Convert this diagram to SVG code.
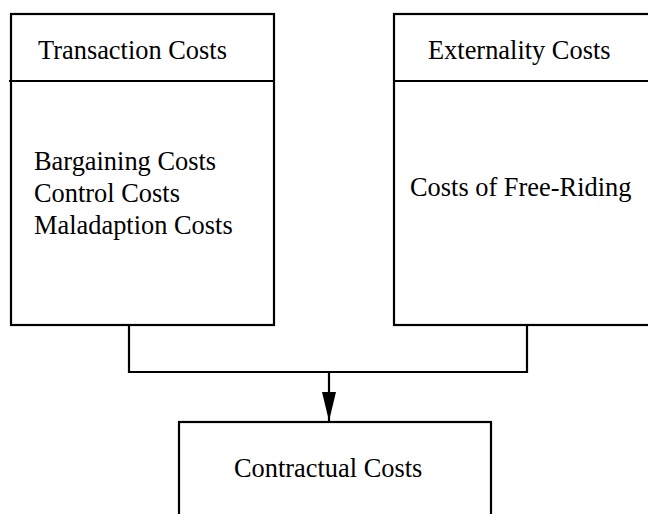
<svg xmlns="http://www.w3.org/2000/svg" width="648" height="514" viewBox="0 0 648 514">
<style>
.box{fill:#fff;stroke:#000;stroke-width:2.2}
.line{fill:none;stroke:#000;stroke-width:2.2}
text{font-family:"Liberation Serif","Times New Roman",serif;font-size:26.4px;fill:#000}
</style>
<defs>
<marker id="arrow" markerUnits="userSpaceOnUse" markerWidth="29" markerHeight="14" refX="29" refY="7" orient="auto" viewBox="0 0 29 14">
<path d="M0,0 L29,7 L0,14 Z" fill="#000"/>
</marker>
</defs>
<rect width="648" height="514" fill="#fff"/>
<g id="connectors">
<polyline class="line" points="129,324 129,372 527,372 527,325"/>
<line class="line" x1="329" y1="372" x2="329" y2="421" marker-end="url(#arrow)"/>
</g>
<g id="transaction">
<rect class="box" x="11" y="14" width="263" height="311"/>
<line class="line" x1="9" y1="81" x2="274" y2="81"/>
<text x="38" y="59">Transaction Costs</text>
<text x="34" y="170">Bargaining Costs</text>
<text x="34" y="202">Control Costs</text>
<text x="34" y="234">Maladaption Costs</text>
</g>
<g id="externality">
<rect class="box" x="394" y="14" width="300" height="311"/>
<line class="line" x1="393" y1="81" x2="648" y2="81"/>
<text x="428" y="59">Externality Costs</text>
<text x="410" y="196">Costs of Free-Riding</text>
</g>
<g id="contractual">
<rect class="box" x="179" y="422" width="312" height="120"/>
<text x="234" y="477">Contractual Costs</text>
</g>
</svg>
